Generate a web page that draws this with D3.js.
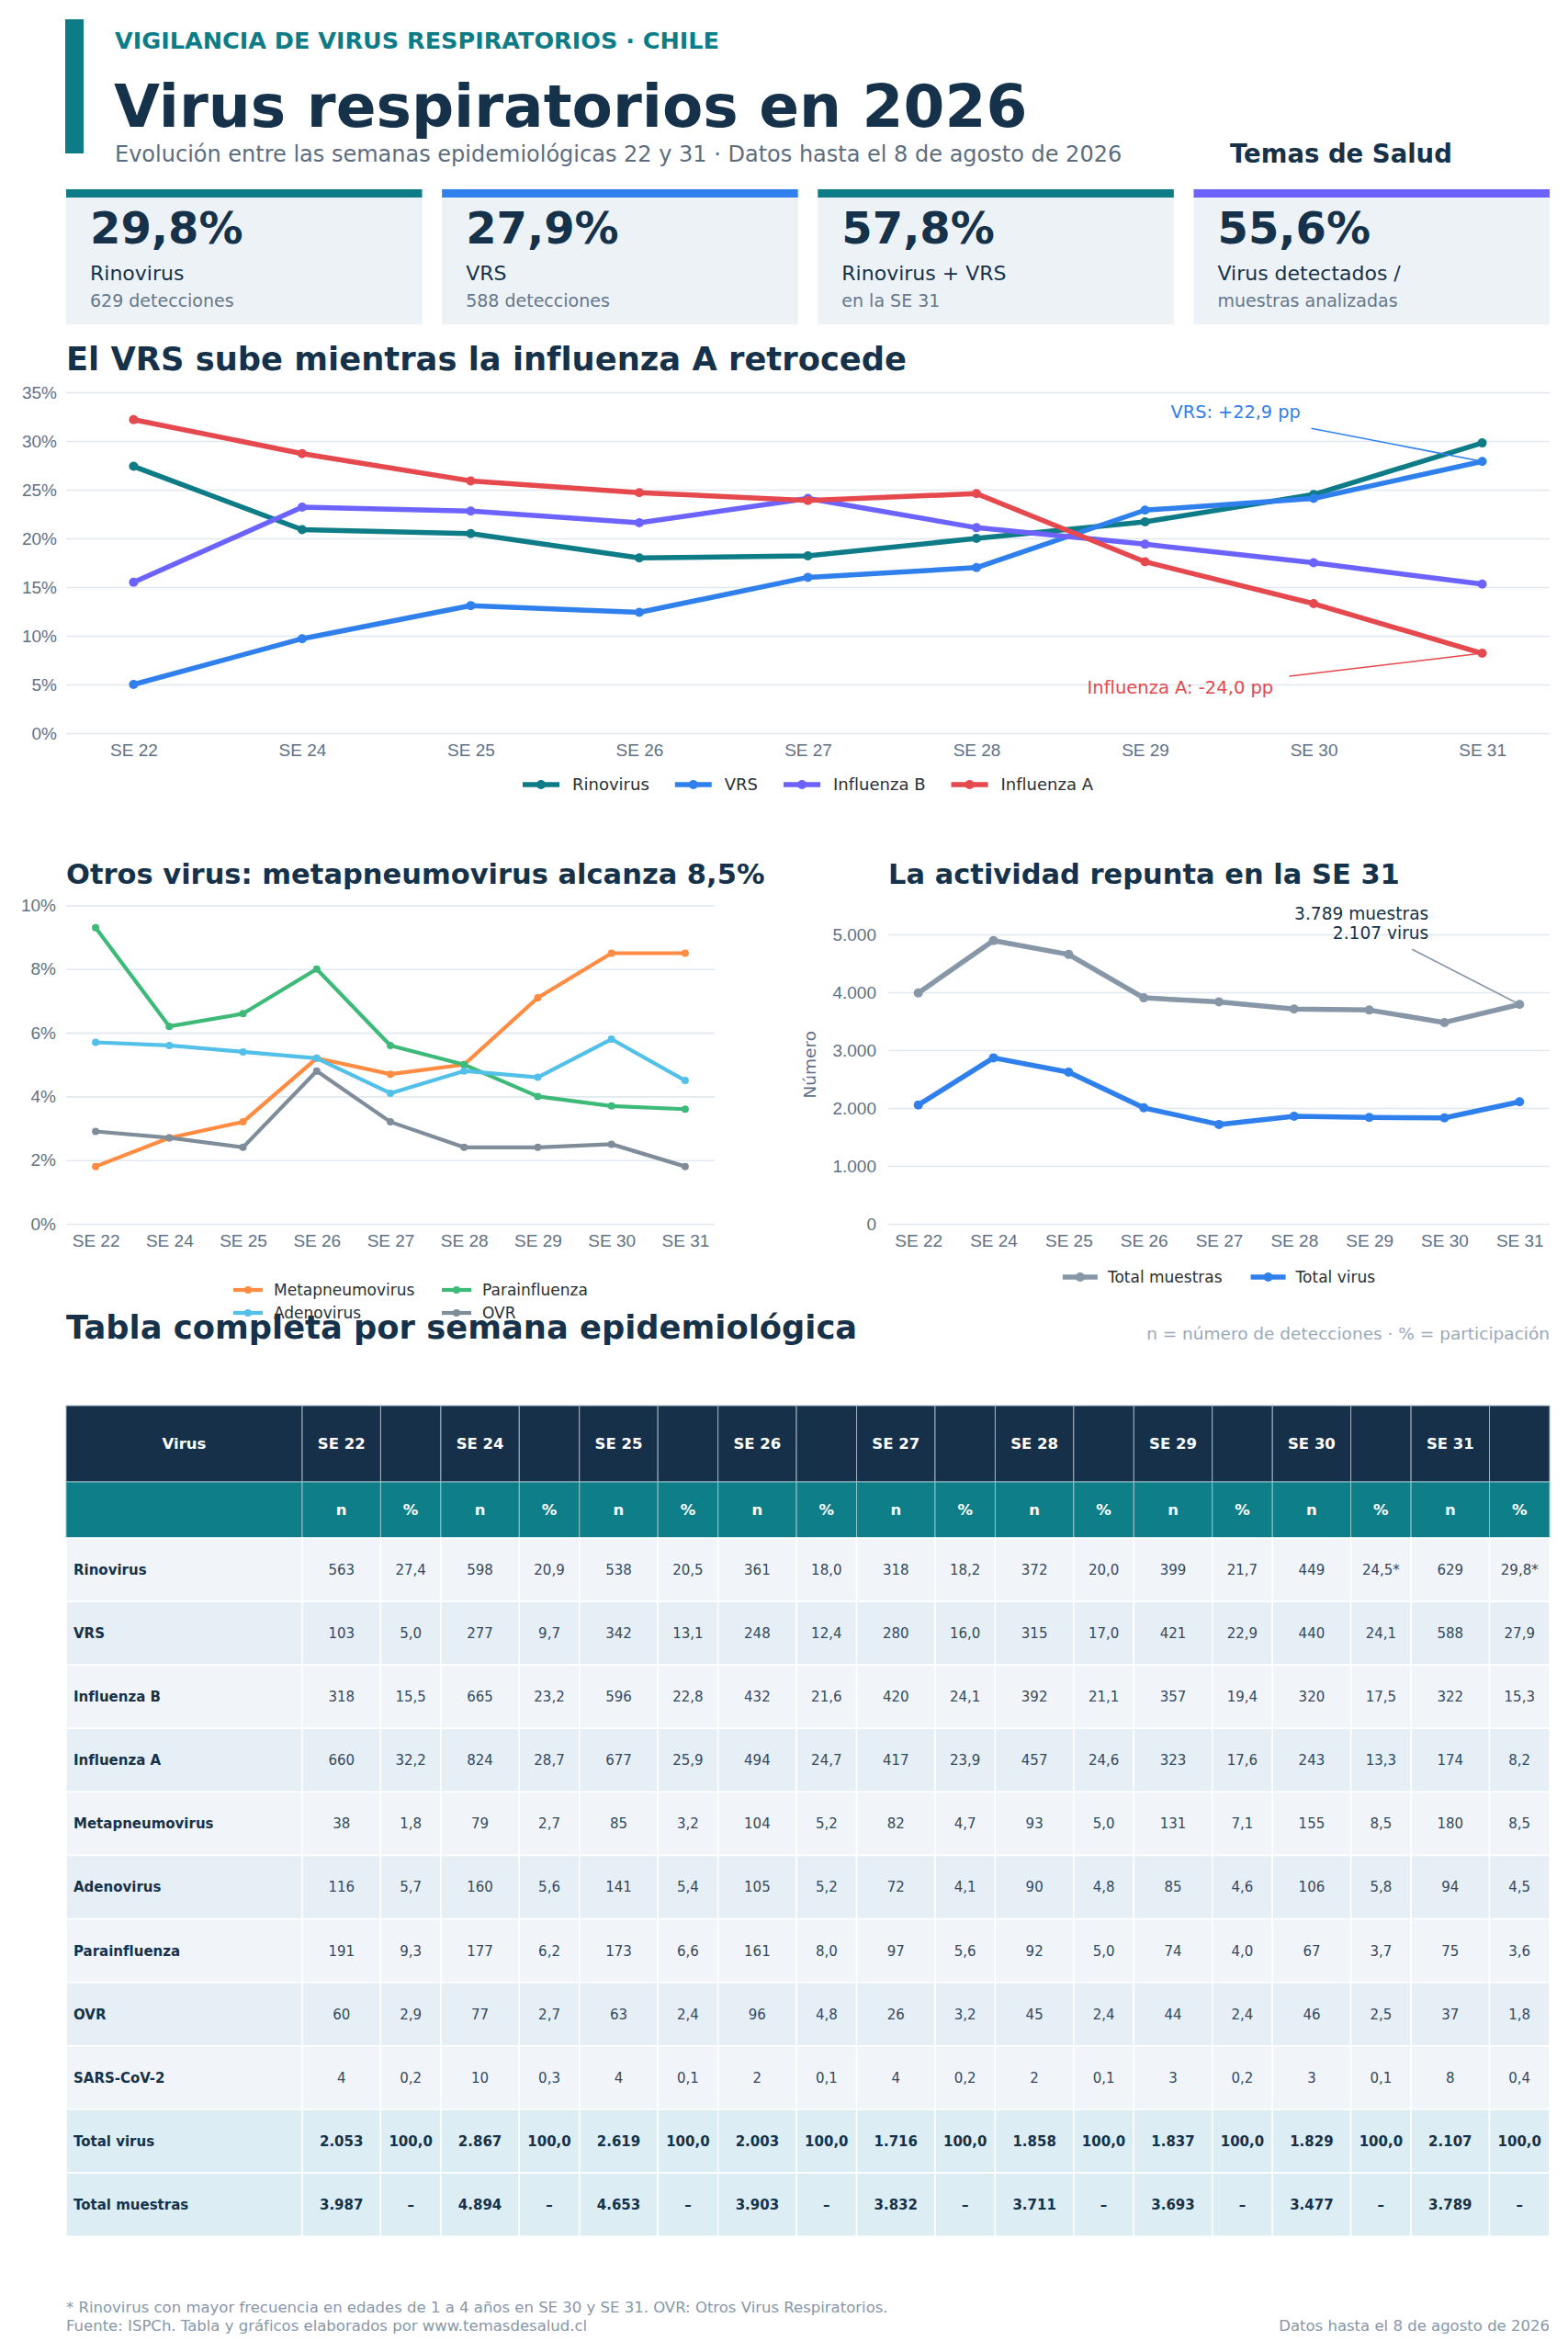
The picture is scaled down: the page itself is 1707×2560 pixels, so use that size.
<!DOCTYPE html>
<html lang="es">
<head>
<meta charset="utf-8">
<title>Virus respiratorios en 2026</title>
<script src="https://cdn.jsdelivr.net/npm/d3@7"></script>
<style>
  html, body { margin: 0; padding: 0; background: #ffffff; }
  svg { display: block; font-family: "DejaVu Sans", sans-serif; }
</style>
</head>
<body>
<svg id="chart" width="1707" height="2560"></svg>
<script>
// ---------- data ----------
const weeks = ["SE 22", "SE 24", "SE 25", "SE 26", "SE 27", "SE 28", "SE 29", "SE 30", "SE 31"];

const rinovirusN = [563, 598, 538, 361, 318, 372, 399, 449, 629];
const vrsN = [103, 277, 342, 248, 280, 315, 421, 440, 588];
const influenzaBN = [318, 665, 596, 432, 420, 392, 357, 320, 322];
const influenzaAN = [660, 824, 677, 494, 417, 457, 323, 243, 174];
const metapneumovirusN = [38, 79, 85, 104, 82, 93, 131, 155, 180];
const adenovirusN = [116, 160, 141, 105, 72, 90, 85, 106, 94];
const parainfluenzaN = [191, 177, 173, 161, 97, 92, 74, 67, 75];
const ovrN = [60, 77, 63, 96, 26, 45, 44, 46, 37];
const sarsN = [4, 10, 4, 2, 4, 2, 3, 3, 8];

const rinovirusPct = [27.4, 20.9, 20.5, 18.0, 18.2, 20.0, 21.7, 24.5, 29.8];
const vrsPct = [5.0, 9.7, 13.1, 12.4, 16.0, 17.0, 22.9, 24.1, 27.9];
const influenzaBPct = [15.5, 23.2, 22.8, 21.6, 24.1, 21.1, 19.4, 17.5, 15.3];
const influenzaAPct = [32.2, 28.7, 25.9, 24.7, 23.9, 24.6, 17.6, 13.3, 8.2];
const metapneumovirusPct = [1.8, 2.7, 3.2, 5.2, 4.7, 5.0, 7.1, 8.5, 8.5];
const adenovirusPct = [5.7, 5.6, 5.4, 5.2, 4.1, 4.8, 4.6, 5.8, 4.5];
const parainfluenzaPct = [9.3, 6.2, 6.6, 8.0, 5.6, 5.0, 4.0, 3.7, 3.6];
const ovrPct = [2.9, 2.7, 2.4, 4.8, 3.2, 2.4, 2.4, 2.5, 1.8];
const sarsPct = [0.2, 0.3, 0.1, 0.1, 0.2, 0.1, 0.2, 0.1, 0.4];

const totalVirus = [2053, 2867, 2619, 2003, 1716, 1858, 1837, 1829, 2107];
const totalVirusPct = [100, 100, 100, 100, 100, 100, 100, 100, 100];
const totalMuestras = [3987, 4894, 4653, 3903, 3832, 3711, 3693, 3477, 3789];

// weeks where the rinovirus share carries the footnote mark
const rinovirusFlagged = ["SE 30", "SE 31"];

const kpiValues = [29.8, 27.9, 57.8, 55.6];
const kpiLabels = ["Rinovirus", "VRS", "Rinovirus + VRS", "Virus detectados /"];
const kpiNotes = ["629 detecciones", "588 detecciones", "en la SE 31", "muestras analizadas"];

// ---------- helpers ----------
const es = d3.formatLocale({ decimal: ",", thousands: ".", grouping: [3], currency: ["$", ""] });
const fmtInt = es.format(",d");
const fmtOne = es.format(".1f");

const C = {
  navy: "#15324a",
  teal: "#0e7c86",
  blue: "#2f80ed",
  purple: "#6c63ff",
  red: "#e5484d",
  orange: "#ff8c42",
  green: "#3dba78",
  sky: "#52c0e9",
  gray: "#7f8c99",
  slate: "#8797a8",
  tick: "#5f7186",
  grid: "#e1e8ef"
};

const svg = d3.select("#chart");
svg.append("rect").attr("width", 1707).attr("height", 2560).attr("fill", "#ffffff");

const LEFT = 72, RIGHT = 1687;

function text(g, x, y, str, size, opts = {}) {
  return g.append("text")
    .attr("x", x).attr("y", y)
    .attr("font-size", size)
    .attr("font-weight", opts.bold ? "bold" : null)
    .attr("fill", opts.fill || C.navy)
    .attr("text-anchor", opts.anchor || "start")
    .text(str);
}

// ---------- header ----------
const head = svg.append("g");
head.append("rect").attr("x", 71).attr("y", 21).attr("width", 20).attr("height", 146).attr("fill", C.teal);
text(head, 125, 53, "VIGILANCIA DE VIRUS RESPIRATORIOS · CHILE", 25.5, { bold: true, fill: C.teal });
text(head, 124, 138, "Virus respiratorios en 2026", 64.6, { bold: true });
text(head, 125, 176, "Evolución entre las semanas epidemiológicas 22 y 31 · Datos hasta el 8 de agosto de 2026", 24, { fill: "#5d6d80" });
text(head, 1339, 177, "Temas de Salud", 27.5, { bold: true });

// ---------- KPI cards ----------
const kpiColors = [C.teal, C.blue, C.teal, C.purple];
const cardGap = 21.67;
const cardW = (RIGHT - LEFT - 3 * cardGap) / 4;
const cards = svg.append("g").selectAll("g").data(kpiValues).join("g")
  .attr("transform", (d, i) => `translate(${LEFT + i * (cardW + cardGap)},206)`);
cards.append("rect").attr("width", cardW).attr("height", 147).attr("fill", "#edf2f7");
cards.append("rect").attr("width", cardW).attr("height", 9).attr("fill", (d, i) => kpiColors[i]);
cards.append("text").attr("x", 26).attr("y", 59).attr("font-size", 48).attr("font-weight", "bold")
  .attr("fill", C.navy).text(d => fmtOne(d) + "%");
cards.append("text").attr("x", 26).attr("y", 99).attr("font-size", 22).attr("fill", C.navy)
  .text((d, i) => kpiLabels[i]);
cards.append("text").attr("x", 26).attr("y", 128).attr("font-size", 19).attr("fill", "#66778a")
  .text((d, i) => kpiNotes[i]);

// ---------- line chart builder ----------
function lineChart(cfg) {
  const g = svg.append("g");
  const x = d3.scalePoint().domain(weeks).range([cfg.left, cfg.right]).padding(0.4);
  const y = d3.scaleLinear().domain(cfg.yDomain).range([cfg.bottom, cfg.top]);

  const yAxis = g.append("g").attr("transform", `translate(${cfg.left},0)`)
    .call(d3.axisLeft(y).tickValues(cfg.yTicks).tickFormat(cfg.yFormat)
      .tickSize(-(cfg.right - cfg.left)).tickPadding(cfg.yPad));
  yAxis.select(".domain").remove();
  yAxis.selectAll("line").attr("stroke", C.grid).attr("stroke-width", 1.6);
  yAxis.selectAll("text").attr("font-size", 19).attr("fill", C.tick).attr("font-family", null);

  const xAxis = g.append("g").attr("transform", `translate(0,${cfg.bottom})`)
    .call(d3.axisBottom(x).tickSize(0).tickPadding(12));
  xAxis.select(".domain").remove();
  xAxis.selectAll("text").attr("font-size", 19).attr("fill", C.tick).attr("font-family", null);

  const line = d3.line().x((d, i) => x(weeks[i])).y(d => y(d));
  cfg.series.forEach(s => {
    g.append("path").datum(s.values).attr("d", line)
      .attr("fill", "none").attr("stroke", s.color)
      .attr("stroke-width", cfg.lineWidth).attr("stroke-linejoin", "round");
    g.append("g").selectAll("circle").data(s.values).join("circle")
      .attr("cx", (d, i) => x(weeks[i])).attr("cy", d => y(d))
      .attr("r", cfg.r).attr("fill", s.color);
  });
  return { g, x, y };
}

function legendRow(g, series, cx, cy, cfg) {
  const items = g.append("g");
  let offset = 0;
  series.forEach((s, i) => {
    const it = items.append("g").attr("transform", `translate(${offset},${cy})`);
    it.append("line").attr("x1", 0).attr("x2", cfg.icon).attr("stroke", s.color).attr("stroke-width", cfg.lineWidth);
    it.append("circle").attr("cx", cfg.icon / 2).attr("r", cfg.r).attr("fill", s.color);
    const t = it.append("text").attr("x", cfg.icon + cfg.textGap).attr("dy", "0.35em")
      .attr("font-size", cfg.size).attr("fill", "#2b2f33").text(s.name);
    offset += cfg.icon + cfg.textGap + t.node().getComputedTextLength() + (i < series.length - 1 ? cfg.itemGap : 0);
  });
  items.attr("transform", `translate(${cx - offset / 2},0)`);
}

// ---------- chart 1 ----------
text(svg, 72, 403, "El VRS sube mientras la influenza A retrocede", 35.3, { bold: true });
const mainSeries = [
  { name: "Rinovirus", values: rinovirusPct, color: C.teal },
  { name: "VRS", values: vrsPct, color: C.blue },
  { name: "Influenza B", values: influenzaBPct, color: C.purple },
  { name: "Influenza A", values: influenzaAPct, color: C.red }
];
const c1 = lineChart({
  left: LEFT, right: RIGHT, top: 427, bottom: 798,
  yDomain: [0, 35], yTicks: d3.range(0, 36, 5), yFormat: d => d + "%", yPad: 10,
  series: mainSeries, lineWidth: 5.5, r: 5
});
legendRow(svg, mainSeries, (LEFT + RIGHT) / 2, 854,
  { icon: 40, textGap: 14, itemGap: 28, size: 18, lineWidth: 5.5, r: 5 });

// annotations
const last = weeks[weeks.length - 1];
function annotate(chart, value, color, lineFrom, textAt, lines, anchor, size) {
  const px = chart.x(last), py = chart.y(value);
  chart.g.append("line")
    .attr("x1", px + lineFrom[0]).attr("y1", py + lineFrom[1])
    .attr("x2", px).attr("y2", py)
    .attr("stroke", color).attr("stroke-width", 1.6);
  lines.forEach((l, i) => {
    text(chart.g, px + textAt[0], py + textAt[1] + i * 21, l, size, { fill: color === C.slate ? C.navy : color, anchor });
  });
}
annotate(c1, vrsPct[8], C.blue, [-186, -36], [-339, -47], ["VRS: +22,9 pp"], "start", 19.3);
annotate(c1, influenzaAPct[8], C.red, [-210, 25], [-430, 44], ["Influenza A: -24,0 pp"], "start", 19.5);

// ---------- chart 2 ----------
text(svg, 72, 962, "Otros virus: metapneumovirus alcanza 8,5%", 30.5, { bold: true });
const otherSeries = [
  { name: "Metapneumovirus", values: metapneumovirusPct, color: C.orange },
  { name: "Parainfluenza", values: parainfluenzaPct, color: C.green },
  { name: "Adenovirus", values: adenovirusPct, color: C.sky },
  { name: "OVR", values: ovrPct, color: C.gray }
];
lineChart({
  left: LEFT, right: 778, top: 985.5, bottom: 1332,
  yDomain: [0, 10], yTicks: d3.range(0, 11, 2), yFormat: d => d + "%", yPad: 11,
  series: otherSeries, lineWidth: 4.2, r: 4
});

// ---------- chart 3 ----------
text(svg, 967, 962, "La actividad repunta en la SE 31", 30.5, { bold: true });
const totalSeries = [
  { name: "Total muestras", values: totalMuestras, color: C.slate },
  { name: "Total virus", values: totalVirus, color: C.blue }
];
const c3 = lineChart({
  left: 967, right: RIGHT, top: 985.5, bottom: 1332,
  yDomain: [0, 5500], yTicks: d3.range(0, 5001, 1000), yFormat: fmtInt, yPad: 13,
  series: totalSeries, lineWidth: 5.5, r: 5
});
c3.g.append("text")
  .attr("transform", `translate(882,${(985.5 + 1332) / 2}) rotate(-90)`)
  .attr("text-anchor", "middle").attr("dy", "0.35em")
  .attr("font-size", 18.5).attr("fill", C.tick).text("Número");
annotate(c3, totalMuestras[8], C.slate, [-117, -60], [-99, -92],
  [fmtInt(totalMuestras[8]) + " muestras", fmtInt(totalVirus[8]) + " virus"], "end", 18.6);
legendRow(svg, totalSeries, (967 + RIGHT) / 2, 1390,
  { icon: 38, textGap: 11, itemGap: 31, size: 17, lineWidth: 5.5, r: 5 });

// ---------- table ----------
text(svg, 72, 1457, "Tabla completa por semana epidemiológica", 35.3, { bold: true });
text(svg, RIGHT, 1458, "n = número de detecciones · % = participación", 18.5, { fill: "#9aa9b9", anchor: "end" });

// chart 2 legend (two columns, sits over the table heading like the original)
const leg2 = svg.append("g");
otherSeries.forEach((s, i) => {
  const it = leg2.append("g").attr("transform", `translate(${254 + (i % 2) * 227},${1404 + Math.floor(i / 2) * 25})`);
  it.append("line").attr("x2", 32).attr("stroke", s.color).attr("stroke-width", 4.2);
  it.append("circle").attr("cx", 16).attr("r", 4).attr("fill", s.color);
  it.append("text").attr("x", 44).attr("dy", "0.35em").attr("font-size", 17).attr("fill", "#2b2f33").text(s.name);
});

const tableRows = [
  { name: "Rinovirus", n: rinovirusN, pct: rinovirusPct },
  { name: "VRS", n: vrsN, pct: vrsPct },
  { name: "Influenza B", n: influenzaBN, pct: influenzaBPct },
  { name: "Influenza A", n: influenzaAN, pct: influenzaAPct },
  { name: "Metapneumovirus", n: metapneumovirusN, pct: metapneumovirusPct },
  { name: "Adenovirus", n: adenovirusN, pct: adenovirusPct },
  { name: "Parainfluenza", n: parainfluenzaN, pct: parainfluenzaPct },
  { name: "OVR", n: ovrN, pct: ovrPct },
  { name: "SARS-CoV-2", n: sarsN, pct: sarsPct },
  { name: "Total virus", n: totalVirus, pct: totalVirusPct, total: true },
  { name: "Total muestras", n: totalMuestras, pct: null, total: true }
];

const virusW = 257;
const pairW = (RIGHT - LEFT - virusW) / weeks.length;
const nW = pairW * 0.566, pW = pairW - nW;
const cols = [{ key: "virus", w: virusW }];
weeks.forEach((w, i) => { cols.push({ key: "n", week: i, w: nW }); cols.push({ key: "pct", week: i, w: pW }); });
let cx = LEFT;
cols.forEach(c => { c.x = cx; cx += c.w; });

const T = svg.append("g");
const h1 = 1530, h1H = 83, h2H = 61, rowH = 69.1;
const bodyTop = h1 + h1H + h2H;

// header rows
const hdr = T.append("g");
hdr.selectAll("rect.h1").data(cols).join("rect").attr("class", "h1")
  .attr("x", d => d.x).attr("y", h1).attr("width", d => d.w).attr("height", h1H)
  .attr("fill", "#163049").attr("stroke", "#9fb0bf").attr("stroke-width", 1);
hdr.selectAll("rect.h2").data(cols).join("rect").attr("class", "h2")
  .attr("x", d => d.x).attr("y", h1 + h1H).attr("width", d => d.w).attr("height", h2H)
  .attr("fill", "#0e7f88").attr("stroke", "#8fc4c8").attr("stroke-width", 1);
hdr.selectAll("text.h1").data(cols.filter(c => c.key !== "pct")).join("text").attr("class", "h1")
  .attr("x", d => d.x + d.w / 2).attr("y", h1 + h1H / 2).attr("dy", "0.36em")
  .attr("text-anchor", "middle").attr("font-size", 16.5).attr("font-weight", "bold").attr("fill", "#ffffff")
  .text(d => d.key === "virus" ? "Virus" : weeks[d.week]);
hdr.selectAll("text.h2").data(cols.filter(c => c.key !== "virus")).join("text").attr("class", "h2")
  .attr("x", d => d.x + d.w / 2).attr("y", h1 + h1H + h2H / 2).attr("dy", "0.36em")
  .attr("text-anchor", "middle").attr("font-size", 16.5).attr("font-weight", "bold").attr("fill", "#ffffff")
  .text(d => d.key === "n" ? "n" : "%");

// body rows
const rowFill = (r, i) => r.total ? "#dcedf4" : (i % 2 === 0 ? "#f1f5f9" : "#e6eff6");
const rows = T.append("g").selectAll("g").data(tableRows).join("g")
  .attr("transform", (d, i) => `translate(0,${bodyTop + i * rowH})`);
rows.each(function (r, ri) {
  const row = d3.select(this);
  row.selectAll("rect").data(cols).join("rect")
    .attr("x", d => d.x).attr("width", d => d.w).attr("height", rowH)
    .attr("fill", rowFill(r, ri)).attr("stroke", "#ffffff").attr("stroke-width", 1.5);
  row.selectAll("text").data(cols).join("text")
    .attr("x", d => d.key === "virus" ? d.x + 8 : d.x + d.w / 2)
    .attr("y", rowH / 2).attr("dy", "0.36em")
    .attr("text-anchor", d => d.key === "virus" ? "start" : "middle")
    .attr("font-size", 15)
    .attr("font-weight", d => (d.key === "virus" || r.total) ? "bold" : null)
    .attr("fill", d => (d.key === "virus" || r.total) ? C.navy : "#34495e")
    .text(d => {
      if (d.key === "virus") return r.name;
      if (d.key === "n") return fmtInt(r.n[d.week]);
      if (!r.pct) return "–";
      const mark = r.name === "Rinovirus" && rinovirusFlagged.includes(weeks[d.week]) ? "*" : "";
      return fmtOne(r.pct[d.week]) + mark;
    });
});

// ---------- footer ----------
text(svg, 72, 2517, "* Rinovirus con mayor frecuencia en edades de 1 a 4 años en SE 30 y SE 31. OVR: Otros Virus Respiratorios.", 16.5, { fill: "#8797aa" });
text(svg, 72, 2537, "Fuente: ISPCh. Tabla y gráficos elaborados por www.temasdesalud.cl", 16.5, { fill: "#8797aa" });
text(svg, RIGHT, 2537, "Datos hasta el 8 de agosto de 2026", 16.5, { fill: "#8797aa", anchor: "end" });
</script>
</body>
</html>
